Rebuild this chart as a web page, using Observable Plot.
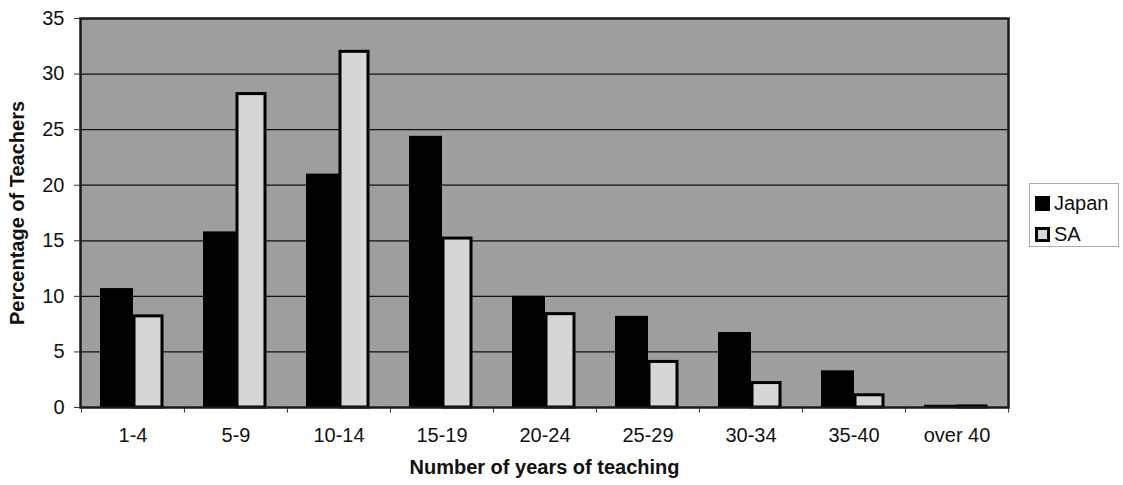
<!DOCTYPE html>
<html><head><meta charset="utf-8">
<script src="https://cdn.jsdelivr.net/npm/d3@7"></script>
<script src="https://cdn.jsdelivr.net/npm/@observablehq/plot@0.6"></script>
<style>
body{margin:0;background:#fff;font-family:"Liberation Sans",Arial,sans-serif;}
#wrap{position:relative;width:1123px;height:485px;overflow:hidden;}
#legend{position:absolute;left:1029px;top:183px;width:90px;height:64px;border:1px solid #aaa;box-sizing:border-box;background:#fff;}
.row{position:absolute;left:5px;display:flex;align-items:center;font-size:20px;color:#111;line-height:20px;}
.sw{width:15px;height:15px;box-sizing:border-box;margin-right:4px;}
</style></head><body><div id="wrap"></div>
<script>
const categories = ["1-4","5-9","10-14","15-19","20-24","25-29","30-34","35-40","over 40"];
const series = ["Japan","SA"];
const japan = [10.7,15.8,21.0,24.4,10.0,8.2,6.75,3.3,0.2];
const sa = [8.2,28.2,32.0,15.2,8.4,4.1,2.2,1.1,0.1];
const yTicks = [0,5,10,15,20,25,30,35];
const gridValues = [5,10,15,20,25,30];
const xTitle = "Number of years of teaching";
const yTitle = "Percentage of Teachers";

const rows = categories.flatMap((c,i)=>[
  {cat:c, series:"Japan", value:japan[i]},
  {cat:c, series:"SA", value:sa[i]}
]);
const step = (1008-80)/categories.length;

const chart = Plot.plot({
  width:1123, height:485,
  marginLeft:80, marginRight:115, marginTop:18, marginBottom:78,
  style:{fontFamily:"'Liberation Sans', Arial, sans-serif", background:"#fff", color:"#111", overflow:"visible"},
  x:{domain:categories, padding:0, axis:null},
  y:{domain:[0,35], axis:null},
  marks:[
    Plot.frame({fill:"#9e9e9e", stroke:null}),
    Plot.ruleY(gridValues, {stroke:"#111", strokeWidth:1.2}),
    Plot.barY(rows.filter(d=>d.series==="Japan"), {x:"cat", y:"value", fill:"#000", insetLeft:19, insetRight:51}),
    Plot.barY(rows.filter(d=>d.series==="SA"), {x:"cat", y:"value", fill:"#d6d6d6", stroke:"#000", strokeWidth:3, insetLeft:53, insetRight:22}),
    Plot.frame({stroke:"#1a1a1a", strokeWidth:2.5}),
    Plot.axisY({ticks:yTicks, tickSize:6, tickPadding:10, fontSize:20, label:null, stroke:"#333"}),
    Plot.axisX({tickSize:0, tickPadding:20, fontSize:20, label:null}),
    Plot.ruleX(categories, {x:d=>d, y1:0, y2:-0.5, dx:-step/2, stroke:"#333"}),
    Plot.ruleX(categories.slice(-1), {x:d=>d, y1:0, y2:-0.5, dx:step/2, stroke:"#333"}),
    Plot.text([yTitle], {frameAnchor:"left", textAnchor:"middle", dx:-63, rotate:-90, fontWeight:"bold", fontSize:20, fill:"#111"}),
    Plot.text([xTitle], {frameAnchor:"bottom", textAnchor:"middle", dy:66, fontWeight:"bold", fontSize:20, fill:"#111"})
  ]
});
const wrap = document.getElementById("wrap");
wrap.appendChild(chart);

const legend = document.createElement("div");
legend.id = "legend";
const swStyles = {Japan:"background:#000;", SA:"background:#d6d6d6;border:3px solid #000;"};
series.forEach((s,i)=>{
  const r = document.createElement("div");
  r.className = "row";
  r.style.top = (9 + i*31) + "px";
  r.innerHTML = `<span class="sw" style="${swStyles[s]}"></span><span>${s}</span>`;
  legend.appendChild(r);
});
wrap.appendChild(legend);
</script>
</body></html>
